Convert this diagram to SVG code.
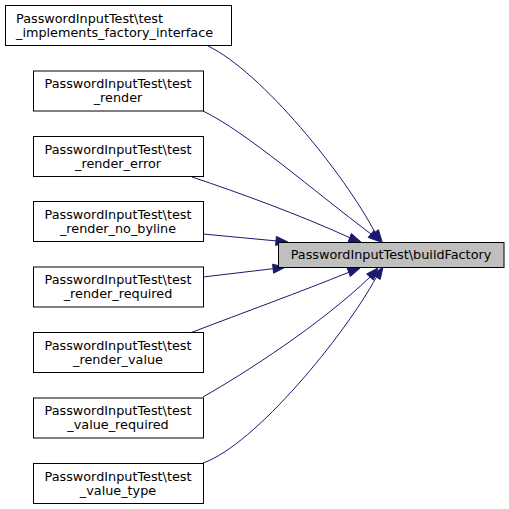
<svg xmlns="http://www.w3.org/2000/svg" width="509" height="509" viewBox="0 0 509 509">
<style>
.box{fill:#ffffff;stroke:#000000;stroke-width:1}
.main{fill:#bfbfbf;stroke:#000000;stroke-width:1}
text{font-family:"DejaVu Sans","Liberation Sans",sans-serif;font-size:12.8px;fill:#000000}
.c{text-anchor:middle}
.e{fill:none;stroke:#191970;stroke-width:1}
.a{fill:#191970;stroke:#191970;stroke-width:1}
</style>
<rect width="509" height="509" fill="#ffffff"/>
<g id="connectors">
<path class="e" d="M208,46 C262,72 345,175 375,232.5"/>
<polygon class="a" points="382.2,242.1 371.2,235.1 378.4,229.7"/>
<path class="e" d="M203,111 C245,131 315,192 371,234"/>
<polygon class="a" points="380.1,241.8 368.1,237.4 373.9,230.6"/>
<path class="e" d="M192,177 C240,193 300,215 349.8,237.7"/>
<polygon class="a" points="361,242 348.2,241.9 351.4,233.5"/>
<path class="e" d="M203,234 L276,240.9"/>
<polygon class="a" points="288,242 275.6,245.4 276.4,236.4"/>
<path class="e" d="M203,277 L273.1,268.7"/>
<polygon class="a" points="285,267.3 273.6,273.2 272.6,264.2"/>
<path class="e" d="M190,333 C245,312 300,292 348.8,272.3"/>
<polygon class="a" points="360,268 350.4,276.5 347.2,268.1"/>
<path class="e" d="M203,397 C245,373 320,325 370,277"/>
<polygon class="a" points="377.9,268 373.4,280 366.6,274"/>
<path class="e" d="M203,463 C255,445 345,335 376.4,277"/>
<polygon class="a" points="383,267 380.2,279.5 372.6,274.5"/>
</g>
<g id="node_buildFactory">
<rect class="main" x="278.5" y="242.5" width="225.5" height="25"/>
<text class="c" x="391" y="259">PasswordInputTest\buildFactory</text>
</g>
<g id="node_implements">
<rect class="box" x="5.5" y="5.5" width="226" height="40"/>
<text x="16" y="22.5">PasswordInputTest\test</text>
<text x="16" y="36.5">_implements_factory_interface</text>
</g>
<g id="node_render">
<rect class="box" x="33.5" y="71" width="170" height="40"/>
<text class="c" x="118" y="88">PasswordInputTest\test</text>
<text class="c" x="118" y="102">_render</text>
</g>
<g id="node_render_error">
<rect class="box" x="33.5" y="136.5" width="170" height="40"/>
<text class="c" x="118" y="153.5">PasswordInputTest\test</text>
<text class="c" x="118" y="167.5">_render_error</text>
</g>
<g id="node_render_no_byline">
<rect class="box" x="33.5" y="201.5" width="170" height="40"/>
<text class="c" x="118" y="218.5">PasswordInputTest\test</text>
<text class="c" x="118" y="232.5">_render_no_byline</text>
</g>
<g id="node_render_required">
<rect class="box" x="33.5" y="267" width="170" height="40"/>
<text class="c" x="118" y="284">PasswordInputTest\test</text>
<text class="c" x="118" y="298">_render_required</text>
</g>
<g id="node_render_value">
<rect class="box" x="33.5" y="332.5" width="170" height="40"/>
<text class="c" x="118" y="349.5">PasswordInputTest\test</text>
<text class="c" x="118" y="363.5">_render_value</text>
</g>
<g id="node_value_required">
<rect class="box" x="33.5" y="398" width="170" height="40"/>
<text class="c" x="118" y="415">PasswordInputTest\test</text>
<text class="c" x="118" y="429">_value_required</text>
</g>
<g id="node_value_type">
<rect class="box" x="33.5" y="463.5" width="170" height="40"/>
<text class="c" x="118" y="480.5">PasswordInputTest\test</text>
<text class="c" x="118" y="494.5">_value_type</text>
</g>
</svg>
